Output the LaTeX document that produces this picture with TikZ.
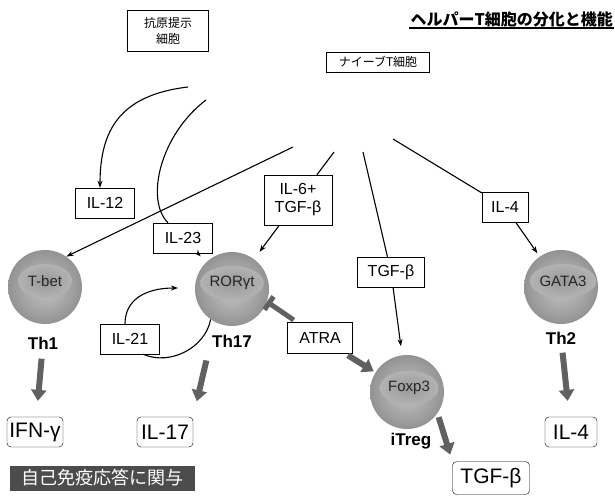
\documentclass[tikz,border=0pt]{standalone}
\usepackage{fontspec}
\setmainfont{Liberation Sans}
\newfontfamily\jp{Noto Sans CJK JP}
\usetikzlibrary{arrows.meta,shapes.geometric}
\begin{document}
\begin{tikzpicture}[x=1pt,y=-1pt,
  lbl/.style={draw, thin, inner sep=0pt, minimum height=30pt, align=center, fill=white,
    font=\fontsize{16}{18}\selectfont},
  outbox/.style={draw, thin, rounded corners=4pt, inner sep=0pt, minimum height=30pt, fill=white,
    font=\fontsize{21}{22}\selectfont},
  jpbox/.style={draw, thin, inner sep=0pt, align=center, fill=white,
    font=\jp\fontsize{12}{16}\selectfont},
  cell/.style={circle, minimum size=74pt, inner sep=0pt, inner color=gray!45, outer color=gray!85},
  nucleus/.style={ellipse, minimum width=54pt, minimum height=34pt, inner sep=0pt,
    inner color=gray!80, outer color=gray!60, text=black!85, font=\fontsize{15}{16}\selectfont},
  cname/.style={font=\bfseries\fontsize{17}{18}\selectfont},
  thin arrow/.style={line width=1.1pt, -{Stealth[length=7pt,width=5pt]}},
  plain line/.style={line width=1.1pt},
  fat/.style={line width=6pt, draw=black!62, -{Triangle[length=11pt,width=15pt]}},
  block/.style={line width=5pt, draw=black!62, -{Bar[width=16pt]}}
]
\useasboundingbox (0,0) rectangle (615,503);

% title and top boxes
\node[anchor=east, font=\jp\bfseries\fontsize{16}{18}\selectfont, inner sep=1pt] (title) at (614,19)
  {ヘルパーT細胞の分化と機能};
\draw[line width=1.2pt] (title.south west) -- (title.south east);
\node[jpbox, minimum width=81pt, minimum height=41pt] (apc) at (168,31) {抗原提示\\細胞};
\node[jpbox, minimum width=103pt, minimum height=20pt] (naive) at (378,62) {ナイーブT細胞};

% free ends near the naive T cell
\coordinate (n1) at (293,147);
\coordinate (n17) at (334,152);
\coordinate (nreg) at (363,152);
\coordinate (n2) at (393,139);
\coordinate (a1) at (188,87);
\coordinate (a2) at (206,100);
\coordinate (il21tip) at (178,288);

% cytokine boxes
\node[lbl, minimum width=59pt] (il12) at (105,203) {IL-12};
\node[lbl, minimum width=59pt] (il23) at (183,238) {IL-23};
\node[lbl, minimum width=68pt, minimum height=50pt] (il6) at (298,200) {IL-6+\\TGF-β};
\node[lbl, minimum width=67pt] (tgfm) at (391,272) {TGF-β};
\node[lbl, minimum width=46pt] (il4m) at (505,207) {IL-4};
\node[lbl, minimum width=59pt] (il21) at (130,339) {IL-21};
\node[lbl, minimum width=65pt, minimum height=31pt] (atra) at (320,338) {ATRA};

% cells
\node[cell] (th1) at (45,287) {};
\node[nucleus] (tbet) at (45,281) {T-bet};
\node[cell] (th17) at (232,289) {};
\node[nucleus] (ror) at (232,283) {RORγt};
\node[cell] (foxp3) at (407,392) {};
\node[nucleus] (fox) at (409,388) {Foxp3};
\node[cell] (th2) at (561,287) {};
\node[nucleus] (gata) at (563,281) {GATA3};

\node[cname] (th1l) at (43,343) {Th1};
\node[cname] (th17l) at (232,341) {Th17};
\node[cname] (th2l) at (561,338) {Th2};
\node[cname] (itregl) at (411,441) {iTreg};

% output boxes
\node[outbox, minimum width=56pt] (ifn) at (35,432) {IFN-γ};
\node[outbox, minimum width=56pt] (il17) at (165,432) {IL-17};
\node[outbox, minimum width=52pt] (il4o) at (571,432) {IL-4};
\node[outbox, minimum width=77pt, minimum height=33pt] (tgfo) at (491,478) {TGF-β};

\node[fill=black!70, text=white, minimum width=185pt, minimum height=25pt, inner sep=0pt,
  font=\jp\fontsize{18}{19}\selectfont] (auto) at (102,478) {自己免疫応答に関与};

% connectors from the naive T cell
\draw[thin arrow] (n1) -- (th1.55);
\draw[plain line] (n17) -- (il6);
\draw[thin arrow, shorten >=9pt] (il6) -- (th17);
\draw[plain line] (nreg) -- (tgfm);
\draw[thin arrow, shorten >=9pt] (tgfm) -- (foxp3);
\draw[plain line] (n2) -- (il4m);
\draw[thin arrow, shorten >=4pt] (il4m) -- (th2);

% from antigen presenting cell
\draw[thin arrow] (a1) .. controls (120,95) and (100,130) .. ([xshift=-5pt]il12.north);
\draw[plain line] (a2) .. controls (160,135) and (145,200) .. ([xshift=-15pt]il23.north);
\draw[thin arrow, shorten >=8pt] (il23) -- (th17);

% IL-21 loop
\draw[plain line] (th17.-125) .. controls (205,348) and (170,366) .. ([xshift=13pt]il21.south);
\draw[thin arrow] ([xshift=-5pt]il21.north) .. controls (125,300) and (145,288) .. (il21tip);

% ATRA
\draw[block, shorten <=4pt] (atra) -- (th17.-20);
\draw[fat, shorten <=3pt, shorten >=2pt] (atra) -- (foxp3);

% fat output arrows
\draw[fat, shorten <=6pt, shorten >=16pt] (th1l) -- (ifn);
\draw[fat, shorten <=10pt, shorten >=16pt] (th17l.south west) -- (il17.north east);
\draw[fat, shorten <=5pt, shorten >=16pt] (th2l) -- (il4o);
\draw[fat, shorten <=4pt, shorten >=7pt] (foxp3.-35) -- (tgfo.north west);
\end{tikzpicture}
\end{document}
